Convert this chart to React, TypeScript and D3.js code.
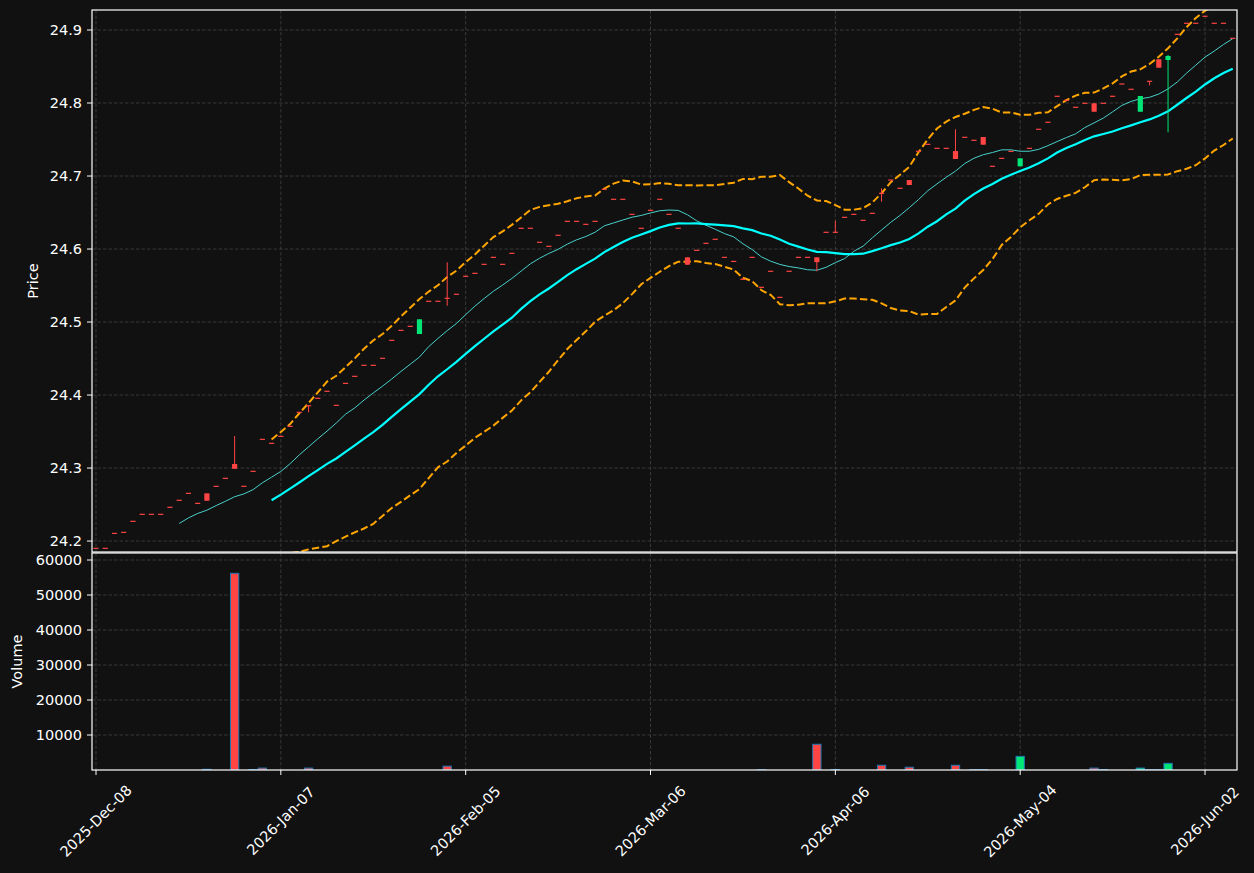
import React from "react";
import * as d3 from "d3";

const W = 1254;
const H = 873;

// closing prices, one per trading day (index 0 = 2025-Dec-08)
const closes = [
  24.19, 24.19, 24.2105, 24.2119, 24.227, 24.2366, 24.2366, 24.2366, 24.2462, 24.2558,
  24.2653, 24.2516, 24.2552, 24.2749, 24.2859, 24.299, 24.275, 24.2955, 24.3393, 24.3338,
  24.3434, 24.3571, 24.3763, 24.3853, 24.3955, 24.4051, 24.3859, 24.416, 24.4256, 24.4407,
  24.4407, 24.4503, 24.4749, 24.4886, 24.4941, 24.5037, 24.5284, 24.5284, 24.5325, 24.538,
  24.5626, 24.5667, 24.579, 24.5886, 24.579, 24.5941, 24.6284, 24.6284, 24.6092, 24.6037,
  24.6188, 24.6379, 24.6379, 24.6338, 24.6379, 24.6818, 24.6681, 24.6681, 24.6475, 24.6284,
  24.653, 24.6681, 24.6475, 24.6284, 24.5785, 24.5982, 24.6078, 24.6133, 24.5886, 24.583,
  24.5585, 24.5886, 24.5475, 24.5695, 24.5338, 24.5695, 24.5886, 24.5886, 24.582, 24.6229,
  24.6229, 24.6434, 24.6475, 24.6393, 24.6489, 24.6763, 24.6945, 24.6832, 24.6877, 24.7338,
  24.7434, 24.7379, 24.7379, 24.7233, 24.753, 24.7489, 24.7429, 24.7133, 24.7242, 24.7338,
  24.7242, 24.7379, 24.764, 24.7736, 24.8092, 24.8037, 24.7941, 24.7996, 24.7881, 24.7996,
  24.8092, 24.826, 24.8188, 24.8096, 24.8297, 24.8484, 24.8644, 24.8941, 24.9092, 24.9092,
  24.9188, 24.9092, 24.9092, 24.8886,
];

// days whose open differs from the close
const bodyIdx = [12, 15, 35, 64, 78, 88, 93, 96, 100, 108, 113, 115, 116];
const bodyOpen = [24.2653, 24.3055, 24.4836, 24.5886, 24.5886, 24.6945, 24.7342, 24.7534, 24.7133, 24.7996, 24.7881, 24.8599, 24.8589];

// days with a visible wick
const wickIdx = [15, 23, 38, 78, 80, 85, 93, 114, 116];
const wickHigh = [24.3438, 24.3853, 24.5818, 24.5886, 24.6388, 24.6832, 24.764, 24.8297, 24.8658];
const wickLow = [24.299, 24.3763, 24.5223, 24.5695, 24.6229, 24.6648, 24.7233, 24.8242, 24.7599];

// traded volume (other days are zero)
const volIdx = [12, 15, 17, 18, 23, 38, 72, 78, 80, 85, 88, 93, 95, 96, 100, 108, 109, 113, 114, 115, 116];
const volValues = [200, 56200, 150, 550, 550, 1100, 100, 7350, 150, 1350, 800, 1350, 100, 120, 3900, 550, 150, 550, 100, 100, 1900];

const xTickIdx = [0, 20, 40, 60, 80, 100, 120];
const xTickLabels = ["2025-Dec-08", "2026-Jan-07", "2026-Feb-05", "2026-Mar-06", "2026-Apr-06", "2026-May-04", "2026-Jun-02"];
const priceTicks = [24.2, 24.3, 24.4, 24.5, 24.6, 24.7, 24.8, 24.9];
const volumeTicks = [10000, 20000, 30000, 40000, 50000, 60000];

const UP = "#00e676";
const DOWN = "#ff4444";
const FONT = "DejaVu Sans, sans-serif";

function rollingMean(vals: number[], n: number) {
  return vals.map((_, i) => (i < n - 1 ? null : d3.mean(vals.slice(i - n + 1, i + 1))!));
}
function rollingStd(vals: number[], n: number) {
  return vals.map((_, i) => (i < n - 1 ? null : d3.deviation(vals.slice(i - n + 1, i + 1))!));
}

export default function App() {
  const left = 92, right = 1237;
  const pTop = 10, pBot = 552, vTop = 553, vBot = 770;

  const x = d3.scaleLinear().domain([-0.433, 123.46]).range([left, right]);
  const y = d3.scaleLinear().domain([24.185, 24.9274]).range([pBot, pTop]);
  const yv = d3.scaleLinear().domain([0, 62000]).range([vBot, vTop]);
  const step = x(1) - x(0);

  const candles = closes.map((c, i) => {
    const bi = bodyIdx.indexOf(i);
    const wi = wickIdx.indexOf(i);
    const o = bi >= 0 ? bodyOpen[bi] : c;
    const hi = wi >= 0 ? Math.max(wickHigh[wi], o, c) : Math.max(o, c);
    const lo = wi >= 0 ? Math.min(wickLow[wi], o, c) : Math.min(o, c);
    return { i, o, c, hi, lo, up: c > o };
  });

  const ma10 = rollingMean(closes, 10);
  const ma20 = rollingMean(closes, 20);
  const sd20 = rollingStd(closes, 20);
  const upper = ma20.map((m, i) => (m == null ? null : m + 2 * sd20[i]!));
  const lower = ma20.map((m, i) => (m == null ? null : m - 2 * sd20[i]!));

  const line = d3
    .line<number | null>()
    .defined((d) => d != null)
    .x((_, i) => x(i))
    .y((d) => y(d as number));

  const bw = step * 0.56;
  const vw = step * 0.9;
  const grid = "#3d3d3d";

  return (
    <svg width={W} height={H} style={{ position: "absolute", left: 0, top: 0, display: "block", background: "#111111" }}>
      <rect x={0} y={0} width={W} height={H} fill="#111111" />
      <defs>
        <clipPath id="pclip">
          <rect x={left} y={pTop} width={right - left} height={pBot - pTop} />
        </clipPath>
        <clipPath id="vclip">
          <rect x={left} y={vTop} width={right - left} height={vBot - vTop} />
        </clipPath>
      </defs>

      {/* grid */}
      <g stroke={grid} strokeWidth={0.9} strokeDasharray="3.5,2">
        {priceTicks.map((t) => (
          <line key={"pg" + t} x1={left} x2={right} y1={y(t)} y2={y(t)} />
        ))}
        {volumeTicks.map((t) => (
          <line key={"vg" + t} x1={left} x2={right} y1={yv(t)} y2={yv(t)} />
        ))}
        {xTickIdx.map((t) => (
          <g key={"xg" + t}>
            <line x1={x(t)} x2={x(t)} y1={pTop} y2={pBot} />
            <line x1={x(t)} x2={x(t)} y1={vTop} y2={vBot} />
          </g>
        ))}
      </g>

      {/* price lines */}
      <g clipPath="url(#pclip)" fill="none">
        <path d={line(upper) ?? ""} stroke="#ffa500" strokeWidth={2} strokeDasharray="7.4,3.2" />
        <path d={line(lower) ?? ""} stroke="#ffa500" strokeWidth={2} strokeDasharray="7.4,3.2" />
        <path d={line(ma10) ?? ""} stroke="#48d1cc" strokeWidth={1} />
        <path d={line(ma20) ?? ""} stroke="#00ffff" strokeWidth={2.2} />
      </g>

      {/* candles */}
      <g clipPath="url(#pclip)">
        {candles.map((d) => {
          const col = d.up ? UP : DOWN;
          const yTop = y(Math.max(d.o, d.c));
          const h = Math.abs(y(d.o) - y(d.c));
          return (
            <g key={"c" + d.i}>
              {d.hi > d.lo && (
                <line x1={x(d.i)} x2={x(d.i)} y1={y(d.hi)} y2={y(d.lo)} stroke={col} strokeWidth={1} />
              )}
              <rect
                x={x(d.i) - bw / 2}
                y={h < 1 ? y(d.c) - 0.6 : yTop}
                width={bw}
                height={Math.max(1.2, h)}
                fill={col}
              />
            </g>
          );
        })}
      </g>

      {/* volume */}
      <g clipPath="url(#vclip)">
        {volIdx.map((vi, k) => {
          const cd = candles[vi];
          return (
            <rect
              key={"v" + vi}
              x={x(vi) - vw / 2}
              y={yv(volValues[k])}
              width={vw}
              height={vBot - yv(volValues[k])}
              fill={cd.up ? UP : DOWN}
              stroke="#1f77b4"
              strokeWidth={1}
            />
          );
        })}
      </g>

      {/* spines */}
      <g fill="none" stroke="#ffffff" strokeWidth={1.2}>
        <rect x={left} y={pTop} width={right - left} height={pBot - pTop} />
        <rect x={left} y={vTop} width={right - left} height={vBot - vTop} />
      </g>

      {/* y axes */}
      <g fontFamily={FONT} fontSize={14.5} fill="#ffffff">
        {priceTicks.map((t) => (
          <g key={"pt" + t}>
            <line x1={left - 5} x2={left} y1={y(t)} y2={y(t)} stroke="#ffffff" strokeWidth={1} />
            <text x={left - 10} y={y(t)} textAnchor="end" dominantBaseline="central">
              {t.toFixed(1)}
            </text>
          </g>
        ))}
        {volumeTicks.map((t) => (
          <g key={"vt" + t}>
            <line x1={left - 5} x2={left} y1={yv(t)} y2={yv(t)} stroke="#ffffff" strokeWidth={1} />
            <text x={left - 10} y={yv(t)} textAnchor="end" dominantBaseline="central">
              {t}
            </text>
          </g>
        ))}
        <text transform={`translate(33,${(pTop + pBot) / 2}) rotate(-90)`} textAnchor="middle" dominantBaseline="central">
          Price
        </text>
        <text transform={`translate(17,${(vTop + vBot) / 2}) rotate(-90)`} textAnchor="middle" dominantBaseline="central">
          Volume
        </text>
      </g>

      {/* x axis */}
      <g fontFamily={FONT} fontSize={14.5} fill="#ffffff">
        {xTickIdx.map((t, k) => (
          <g key={"xt" + t}>
            <line x1={x(t)} x2={x(t)} y1={vBot} y2={vBot + 5} stroke="#ffffff" strokeWidth={1} />
            <text
              transform={`translate(${x(t)},821) rotate(-45)`}
              textAnchor="middle"
              dominantBaseline="central"
            >
              {xTickLabels[k]}
            </text>
          </g>
        ))}
      </g>
    </svg>
  );
}
